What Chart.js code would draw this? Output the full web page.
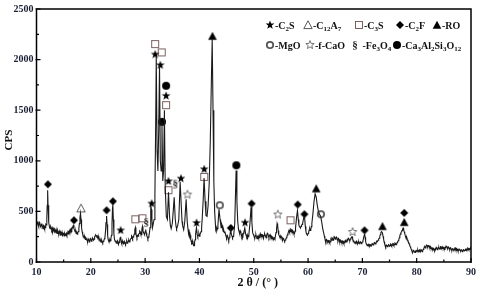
<!DOCTYPE html>
<html><head><meta charset="utf-8">
<script src="https://cdn.jsdelivr.net/npm/chart.js@4"></script>
<style>html,body{margin:0;padding:0;background:#fff}</style>
</head><body><canvas id="c" width="480" height="298"></canvas>
<script>
// ---- XRD scan: [2theta, CPS] ----
const scan = [
[10.0,360],[10.1,385],[10.2,400],[10.3,368],[10.4,350],[10.5,395],[10.6,388],[10.7,355],[10.8,345],[10.9,372],[11.0,380],[11.1,348],[11.2,330],[11.3,362],[11.4,358],[11.5,332],[11.6,340],[11.7,372],[11.8,365],[11.9,430],[11.97,560],[12.05,710],[12.13,560],[12.25,390],[12.4,345],[12.5,330],
[12.6,352],[12.7,340],[12.8,318],[12.9,335],[13.0,305],[13.1,330],[13.2,312],[13.3,298],[13.4,325],[13.5,315],[13.6,290],[13.7,305],[13.8,282],[13.9,310],[14.0,292],[14.1,280],[14.2,305],[14.3,288],[14.4,268],[14.5,290],[14.6,275],[14.7,295],[14.8,262],[14.9,270],[15.0,288],[15.1,258],[15.2,280],[15.3,262],[15.4,272],[15.5,285],[15.6,265],[15.7,278],[15.8,300],[15.9,290],[16.0,305],[16.1,288],[16.2,320],[16.3,310],[16.4,330],[16.5,318],[16.6,340],[16.7,355],[16.8,362],[16.9,330],[17.0,318],[17.1,300],[17.2,305],[17.3,282],[17.4,290],[17.5,275],[17.6,295],[17.7,300],[17.8,330],[17.9,380],[18.0,440],[18.1,480],[18.2,420],[18.3,340],[18.4,300],[18.5,275],[18.6,262],[18.7,250],[18.8,238],[18.9,245],
[19.0,222],[19.1,238],[19.2,228],[19.3,212],[19.4,205],[19.5,230],[19.6,220],[19.7,198],[19.8,210],[19.9,232],[20.0,225],[20.1,205],[20.2,212],[20.3,238],[20.4,228],[20.5,215],[20.6,225],[20.7,248],[20.8,258],[20.9,268],[21.0,262],[21.1,252],[21.2,258],[21.3,238],[21.4,230],[21.5,242],[21.6,218],[21.7,205],[21.8,212],[21.9,195],[22.0,215],[22.1,200],[22.2,190],[22.3,205],[22.4,212],[22.5,230],[22.6,245],[22.7,300],[22.8,390],[22.9,455],[23.0,370],[23.1,260],[23.2,220],[23.3,205],[23.4,200],[23.5,222],[23.6,210],[23.7,232],[23.8,265],[23.9,380],[24.0,540],[24.05,570],[24.15,420],[24.25,280],[24.35,225],[24.5,200],[24.6,212],[24.7,185],[24.8,195],[24.9,210],
[25.0,190],[25.1,175],[25.2,192],[25.3,205],[25.4,240],[25.5,250],[25.6,195],[25.7,178],[25.8,210],[25.9,195],[26.0,180],[26.1,198],[26.2,205],[26.3,185],[26.4,175],[26.5,192],[26.6,205],[26.7,185],[26.8,190],[26.9,212],[27.0,215],[27.1,198],[27.2,205],[27.3,225],[27.4,232],[27.5,258],[27.6,250],[27.7,232],[27.8,248],[27.9,262],[28.0,275],[28.1,320],[28.2,340],[28.3,285],[28.4,255],[28.5,240],[28.6,262],[28.7,255],[28.8,272],[28.9,282],[29.0,305],[29.1,298],[29.2,275],[29.3,270],[29.4,320],[29.5,350],[29.6,310],[29.7,290],[29.8,282],[29.9,270],[30.0,298],[30.1,320],[30.2,290],[30.3,260],[30.4,248],[30.5,230],[30.6,245],[30.7,262],[30.8,290],[30.9,340],[31.0,480],[31.07,560],[31.15,520],[31.25,420],[31.35,340],[31.5,380],[31.65,420],[31.8,650],
[31.95,1400],[32.05,2030],[32.2,1100],[32.35,900],[32.5,1300],[32.65,1940],[32.8,1000],[32.95,900],[33.1,1380],[33.25,800],[33.4,900],[33.55,1500],[33.7,750],[33.9,450],[34.1,420],[34.3,690],[34.5,450],[34.65,360],[34.8,330],[35.0,380],[35.2,520],[35.35,640],[35.55,420],[35.7,350],[35.8,330],[36.0,360],[36.2,420],[36.45,790],[36.65,560],[36.8,400],[36.9,360],[37.1,320],[37.3,400],[37.55,620],[37.75,400],[37.9,320],[38.0,280],[38.1,300],[38.2,250],[38.3,265],[38.4,220],[38.5,205],[38.6,170],[38.7,210],[38.8,190],[38.9,175],[39.0,160],[39.1,195],[39.2,220],[39.3,280],[39.45,340],[39.6,270],[39.7,250],[39.8,265],[39.9,280],[40.0,255],[40.1,270],[40.2,285],[40.3,300],[40.4,340],[40.5,420],[40.7,620],[40.85,830],[41.05,600],[41.2,460],[41.4,450],[41.6,560],[41.8,780],[42.0,1200],[42.2,1800],[42.35,2200],[42.5,1500],[42.65,800],[42.8,500],
[43.0,320],[43.1,340],[43.2,310],[43.3,330],[43.4,360],[43.6,520],[43.8,420],[43.9,380],[44.0,340],[44.1,375],[44.2,360],[44.3,320],[44.4,300],[44.5,310],[44.6,290],[44.7,300],[44.8,270],[44.9,255],[45.0,240],[45.1,262],[45.2,250],[45.3,230],[45.4,215],[45.5,240],[45.6,260],[45.75,315],[45.9,270],[46.0,255],[46.1,240],[46.2,252],[46.3,260],[46.5,380],[46.65,700],[46.75,905],[46.9,600],[47.05,400],[47.2,320],[47.3,300],[47.4,280],[47.5,310],[47.6,300],[47.7,270],[47.8,250],[47.9,272],[48.0,260],[48.1,285],[48.2,300],[48.35,335],[48.5,280],[48.6,262],[48.7,250],[48.8,268],[48.9,240],[49.0,255],[49.1,270],[49.3,380],[49.5,540],[49.65,400],[49.8,290],[49.9,275],
[50.0,260],[50.1,248],[50.2,240],[50.3,262],[50.4,270],[50.5,245],[50.6,230],[50.7,252],[50.8,260],[50.9,238],[51.0,240],[51.1,265],[51.2,280],[51.3,258],[51.4,250],[51.5,272],[51.6,270],[51.7,248],[51.8,235],[51.9,262],[52.0,280],[52.1,265],[52.2,250],[52.3,240],[52.4,265],[52.5,285],[52.6,280],[52.7,255],[52.8,240],[52.9,262],[53.0,270],[53.1,248],[53.2,230],[53.3,255],[53.4,250],[53.5,232],[53.6,220],[53.7,238],[53.8,240],[53.9,228],[54.0,260],[54.1,290],[54.2,330],[54.3,380],[54.4,360],[54.5,310],[54.6,270],[54.7,260],[54.8,245],[54.9,240],[55.0,258],[55.1,250],[55.2,228],[55.3,215],[55.4,235],[55.5,230],[55.6,212],[55.7,205],[55.8,218],[55.9,225],[56.0,240],[56.1,250],[56.2,268],[56.3,280],[56.4,300],[56.5,315],[56.6,295],[56.7,300],[56.8,325],[56.9,320],[57.0,300],[57.1,290],[57.2,308],[57.3,300],[57.4,278],[57.5,280],[57.6,305],[57.7,340],[57.9,450],[58.05,510],[58.2,420],[58.3,370],[58.4,350],[58.5,345],[58.6,335],[58.7,352],[58.8,360],[58.9,372],[59.0,380],[59.2,440],[59.35,445],[59.5,350],[59.6,305],[59.7,280],[59.8,272],[59.9,265],
[60.0,282],[60.1,290],[60.2,315],[60.3,330],[60.4,312],[60.5,320],[60.6,350],[60.7,380],[60.9,480],[61.1,600],[61.3,675],[61.5,640],[61.7,560],[61.9,500],[62.1,470],[62.3,455],[62.5,400],[62.7,330],[62.9,280],[63.0,255],[63.1,230],[63.2,215],[63.3,200],[63.4,222],[63.5,215],[63.6,198],[63.7,195],[63.8,212],[63.9,210],[64.0,192],[64.1,200],[64.2,225],[64.3,215],[64.4,240],[64.5,235],[64.6,215],[64.7,220],[64.8,250],[64.9,245],[65.0,225],[65.1,230],[65.2,248],[65.3,240],[65.4,218],[65.5,210],[65.6,232],[65.7,225],[65.8,200],[65.9,195],[66.0,215],[66.1,210],[66.2,190],[66.3,185],[66.4,208],[66.5,205],[66.6,185],[66.7,190],[66.8,210],[66.9,215],[67.0,198],[67.1,200],[67.2,222],[67.3,220],[67.4,235],[67.5,230],[67.6,212],[67.7,210],[67.8,228],[67.9,235],[68.0,245],[68.1,250],[68.2,228],[68.3,215],[68.4,205],[68.5,200],[68.6,190],[68.7,185],[68.8,198],[68.9,205],[69.0,188],[69.1,180],[69.2,195],[69.3,200],[69.4,182],[69.5,185],[69.6,200],[69.7,195],[69.8,182],[69.9,190],
[70.0,198],[70.1,210],[70.2,232],[70.3,260],[70.4,280],[70.5,245],[70.6,205],[70.7,180],[70.8,172],[70.9,160],[71.0,168],[71.1,175],[71.2,160],[71.3,155],[71.4,172],[71.5,170],[71.6,158],[71.7,165],[71.8,182],[71.9,180],[72.0,168],[72.1,175],[72.2,192],[72.3,190],[72.4,178],[72.5,185],[72.6,205],[72.7,200],[72.8,208],[72.9,215],[73.0,228],[73.1,235],[73.2,250],[73.3,270],[73.4,290],[73.5,300],[73.6,298],[73.7,285],[73.8,255],[73.9,230],[74.0,200],[74.1,180],[74.2,162],[74.3,150],[74.4,168],[74.5,165],[74.6,150],[74.7,155],[74.8,172],[74.9,170],[75.0,155],[75.1,160],[75.2,178],[75.3,175],[75.4,160],[75.5,165],[75.6,182],[75.7,180],[75.8,165],[75.9,170],[76.0,188],[76.1,185],[76.2,172],[76.3,175],[76.4,192],[76.5,200],[76.6,210],[76.7,220],[76.8,240],[76.9,260],[77.0,275],[77.1,290],[77.2,298],[77.3,310],[77.4,325],[77.5,335],[77.6,320],[77.7,300],[77.8,282],[77.9,260],[78.0,242],[78.1,230],[78.2,238],[78.3,220],[78.4,205],[78.5,195],[78.6,182],[78.7,170],[78.8,152],[78.9,140],[79.0,125],[79.1,110],[79.2,102],[79.3,100],[79.4,115],[79.5,110],[79.6,98],[79.7,95],[79.8,108],[79.9,115],
[80.0,108],[80.1,105],[80.2,118],[80.3,100],[80.4,112],[80.5,120],[80.6,108],[80.7,105],[80.8,122],[80.9,115],[81.0,102],[81.1,110],[81.2,125],[81.3,130],[81.4,148],[81.5,150],[81.6,140],[81.7,155],[81.8,168],[81.9,165],[82.0,148],[82.1,150],[82.2,162],[82.3,160],[82.4,140],[82.5,135],[82.6,148],[82.7,140],[82.8,125],[82.9,120],[83.0,138],[83.1,135],[83.2,118],[83.3,115],[83.4,132],[83.5,130],[83.6,145],[83.7,140],[83.8,122],[83.9,125],[84.0,142],[84.1,145],[84.2,128],[84.3,130],[84.4,152],[84.5,150],[84.6,135],[84.7,135],[84.8,150],[84.9,145],[85.0,128],[85.1,125],[85.2,142],[85.3,140],[85.4,158],[85.5,155],[85.6,138],[85.7,135],[85.8,150],[85.9,145],[86.0,128],[86.1,125],[86.2,142],[86.3,140],[86.4,118],[86.5,115],[86.6,132],[86.7,130],[86.8,118],[86.9,120],[87.0,138],[87.1,140],[87.2,120],[87.3,115],[87.4,130],[87.5,125],[87.6,108],[87.7,110],[87.8,128],[87.9,125],[88.0,112],[88.1,110],[88.2,122],[88.3,120],[88.4,102],[88.5,105],[88.6,122],[88.7,120],[88.8,110],[88.9,115],[89.0,128],[89.1,130],[89.2,118],[89.3,120],[89.4,138],[89.5,135],[89.6,122],[89.7,125],[89.8,132],[89.9,130],[90.0,150]
];

// ---- axis ticks ----
const xTickValues = [10,20,30,40,50,60,70,80,90];
const yTickValues = [0,500,1000,1500,2000,2500];

// ---- phase markers: [2theta, CPS] ----
const markC2S   = [[25.5,313],[31.2,578],[31.85,2051],[32.8,1945],[33.86,1642],[34.3,798],[36.6,825],[39.47,386],[40.88,917],[48.4,389]];
const markC12A7 = [[18.2,530]];
const markC3S   = [[28.2,422],[29.5,432],[31.85,2153],[33.05,2071],[33.86,1550],[34.3,709],[40.88,841],[56.77,412]];
const markC2F   = [[12.1,768],[16.9,412],[22.9,511],[24.07,600],[45.77,336],[49.6,577],[58.1,568],[59.33,472],[70.4,313],[77.7,485]];
const markRO    = [[42.4,2232],[61.5,726],[73.7,353],[77.7,393]];
const markMgO   = [[43.75,561],[62.37,472]];
const markFCaO  = [[37.8,666],[54.44,469],[68.2,297]];
const markFe3O4 = [[30.2,395],[35.56,775]];
const markGarnet= [[33.86,1741],[33.1,1385],[46.8,956]];

// ---- glyph images for markers ----
function mk(draw){const c=document.createElement('canvas');c.width=12;c.height=12;const g=c.getContext('2d');g.translate(6,6);draw(g);return c;}
function starPath(g,R,r){g.beginPath();for(let i=0;i<10;i++){const a=-Math.PI/2+i*Math.PI/5;const rad=i%2?r:R;g.lineTo(rad*Math.cos(a),rad*Math.sin(a));}g.closePath();}
const G = {
  starF: mk(g=>{starPath(g,4.6,1.9);g.fillStyle='#000';g.fill();}),
  starO: mk(g=>{starPath(g,4.4,1.9);g.strokeStyle='#666';g.lineWidth=0.9;g.stroke();}),
  triO:  mk(g=>{g.beginPath();g.moveTo(0,-4.2);g.lineTo(4.2,3.6);g.lineTo(-4.2,3.6);g.closePath();g.strokeStyle='#444';g.lineWidth=0.9;g.stroke();}),
  triF:  mk(g=>{g.beginPath();g.moveTo(0,-4.3);g.lineTo(4.3,3.7);g.lineTo(-4.3,3.7);g.closePath();g.fillStyle='#000';g.fill();}),
  sq:    mk(g=>{g.strokeStyle='#6e5050';g.lineWidth=0.9;g.strokeRect(-3.5,-3.5,7,7);}),
  dia:   mk(g=>{g.beginPath();g.moveTo(0,-4);g.lineTo(4,0);g.lineTo(0,4);g.lineTo(-4,0);g.closePath();g.fillStyle='#000';g.fill();}),
  ring:  mk(g=>{g.beginPath();g.arc(0,0,3.2,0,Math.PI*2);g.strokeStyle='#555';g.lineWidth=1.8;g.stroke();}),
  dot:   mk(g=>{g.beginPath();g.arc(0,0,4,0,Math.PI*2);g.fillStyle='#000';g.fill();}),
  sect:  mk(g=>{g.fillStyle='#222';g.font='bold 11px "Liberation Serif"';g.textAlign='center';g.textBaseline='middle';g.fillText('§',0,0.5);})
};

function markerSet(data, img){
  return {type:'scatter', data:data.map(p=>({x:p[0],y:p[1]})), pointStyle:img, pointRadius:5, showLine:false};
}

const legendRows = [
  {y:25, items:[
    {x:270,g:'starF',t:[['-C'],['2',1],['S']]},
    {x:308,g:'triO', t:[['-C'],['12',1],['A'],['7',1]]},
    {x:359,g:'sq',   t:[['-C'],['3',1],['S']]},
    {x:400,g:'dia',  t:[['-C'],['2',1],['F']]},
    {x:437,g:'triF', t:[['-RO']]}
  ]},
  {y:45, items:[
    {x:270,g:'ring', t:[['-MgO']]},
    {x:310,g:'starO',t:[['-f-CaO']]},
    {x:355,g:'sect', t:[[' -Fe'],['3',1],['O'],['4',1]]},
    {x:397,g:'dot',  t:[['-Ca'],['3',1],['Al'],['2',1],['Si'],['3',1],['O'],['12',1]]}
  ]}
];

const decor = {
  id:'decor',
  afterDraw(chart){
    const {ctx, chartArea:a, scales:{x,y}} = chart;
    ctx.save();
    ctx.strokeStyle='#000'; ctx.lineWidth=1.5;
    ctx.strokeRect(a.left, a.top, a.right-a.left, a.bottom-a.top);
    ctx.lineWidth=1.2;
    ctx.beginPath();
    xTickValues.forEach((v,i)=>{
      const px=x.getPixelForValue(v); ctx.moveTo(px,a.bottom+1); ctx.lineTo(px,a.bottom-4);
      if(i<xTickValues.length-1){const m=x.getPixelForValue((v+xTickValues[i+1])/2); ctx.moveTo(m,a.bottom); ctx.lineTo(m,a.bottom-2.5);}
    });
    yTickValues.forEach((v,i)=>{
      const py=y.getPixelForValue(v); ctx.moveTo(a.left-1,py); ctx.lineTo(a.left+4,py);
      if(i<yTickValues.length-1){const m=y.getPixelForValue((v+yTickValues[i+1])/2); ctx.moveTo(a.left,m); ctx.lineTo(a.left+2.5,m);}
    });
    ctx.stroke();
    ctx.fillStyle='#111';
    ctx.font='bold 12px "Liberation Serif"'; ctx.textAlign='center'; ctx.textBaseline='middle';
    ctx.fillText('2 θ / (° )', (a.left+a.right)/2 + 4, 283);
    ctx.save(); ctx.translate(9, 140); ctx.rotate(-Math.PI/2);
    ctx.font='bold 11px "Liberation Serif"'; ctx.fillText('CPS',0,0); ctx.restore();
    ctx.textAlign='left'; ctx.textBaseline='alphabetic';
    legendRows.forEach(row=>{
      row.items.forEach(it=>{
        ctx.drawImage(G[it.g], it.x-6, row.y-6);
        let tx = it.x+5;
        it.t.forEach(seg=>{
          if(seg[1]){ ctx.font='bold 7px "Liberation Serif"'; ctx.fillText(seg[0],tx,row.y+5.5); }
          else { ctx.font='bold 10px "Liberation Serif"'; ctx.fillText(seg[0],tx,row.y+3.5); }
          tx += ctx.measureText(seg[0]).width;
        });
      });
    });
    ctx.restore();
  }
};

const tickFont = {family:'Liberation Serif', size:10, weight:'bold'};
new Chart(document.getElementById('c'), {
  type:'line',
  data:{datasets:[
    {type:'line', data:scan.map(p=>({x:p[0],y:p[1]})), borderColor:'#1a1a1a', borderWidth:1.1, pointRadius:0, tension:0},
    markerSet(markC2S,G.starF), markerSet(markC12A7,G.triO), markerSet(markC3S,G.sq), markerSet(markC2F,G.dia),
    markerSet(markRO,G.triF), markerSet(markMgO,G.ring), markerSet(markFCaO,G.starO), markerSet(markFe3O4,G.sect),
    markerSet(markGarnet,G.dot)
  ]},
  options:{
    responsive:false, animation:false, devicePixelRatio:1,
    layout:{padding:{left:0,right:6,top:9,bottom:0}},
    plugins:{legend:{display:false}, tooltip:{enabled:false}},
    scales:{
      x:{type:'linear', min:10, max:90,
         afterBuildTicks:s=>{s.ticks=xTickValues.map(v=>({value:v}));},
         afterFit:s=>{s.height=36;},
         grid:{display:false, drawTicks:false}, border:{display:false},
         ticks:{padding:4, font:tickFont, color:'#1c2136', maxRotation:0, autoSkip:false, callback:v=>String(v)}},
      y:{type:'linear', min:0, max:2500,
         afterBuildTicks:s=>{s.ticks=yTickValues.map(v=>({value:v}));},
         afterFit:s=>{s.width=36.5;},
         grid:{display:false, drawTicks:false}, border:{display:false},
         ticks:{padding:3, font:tickFont, color:'#1c2136', autoSkip:false, callback:v=>String(v)}}
    }
  },
  plugins:[decor]
});
</script>
</body></html>
